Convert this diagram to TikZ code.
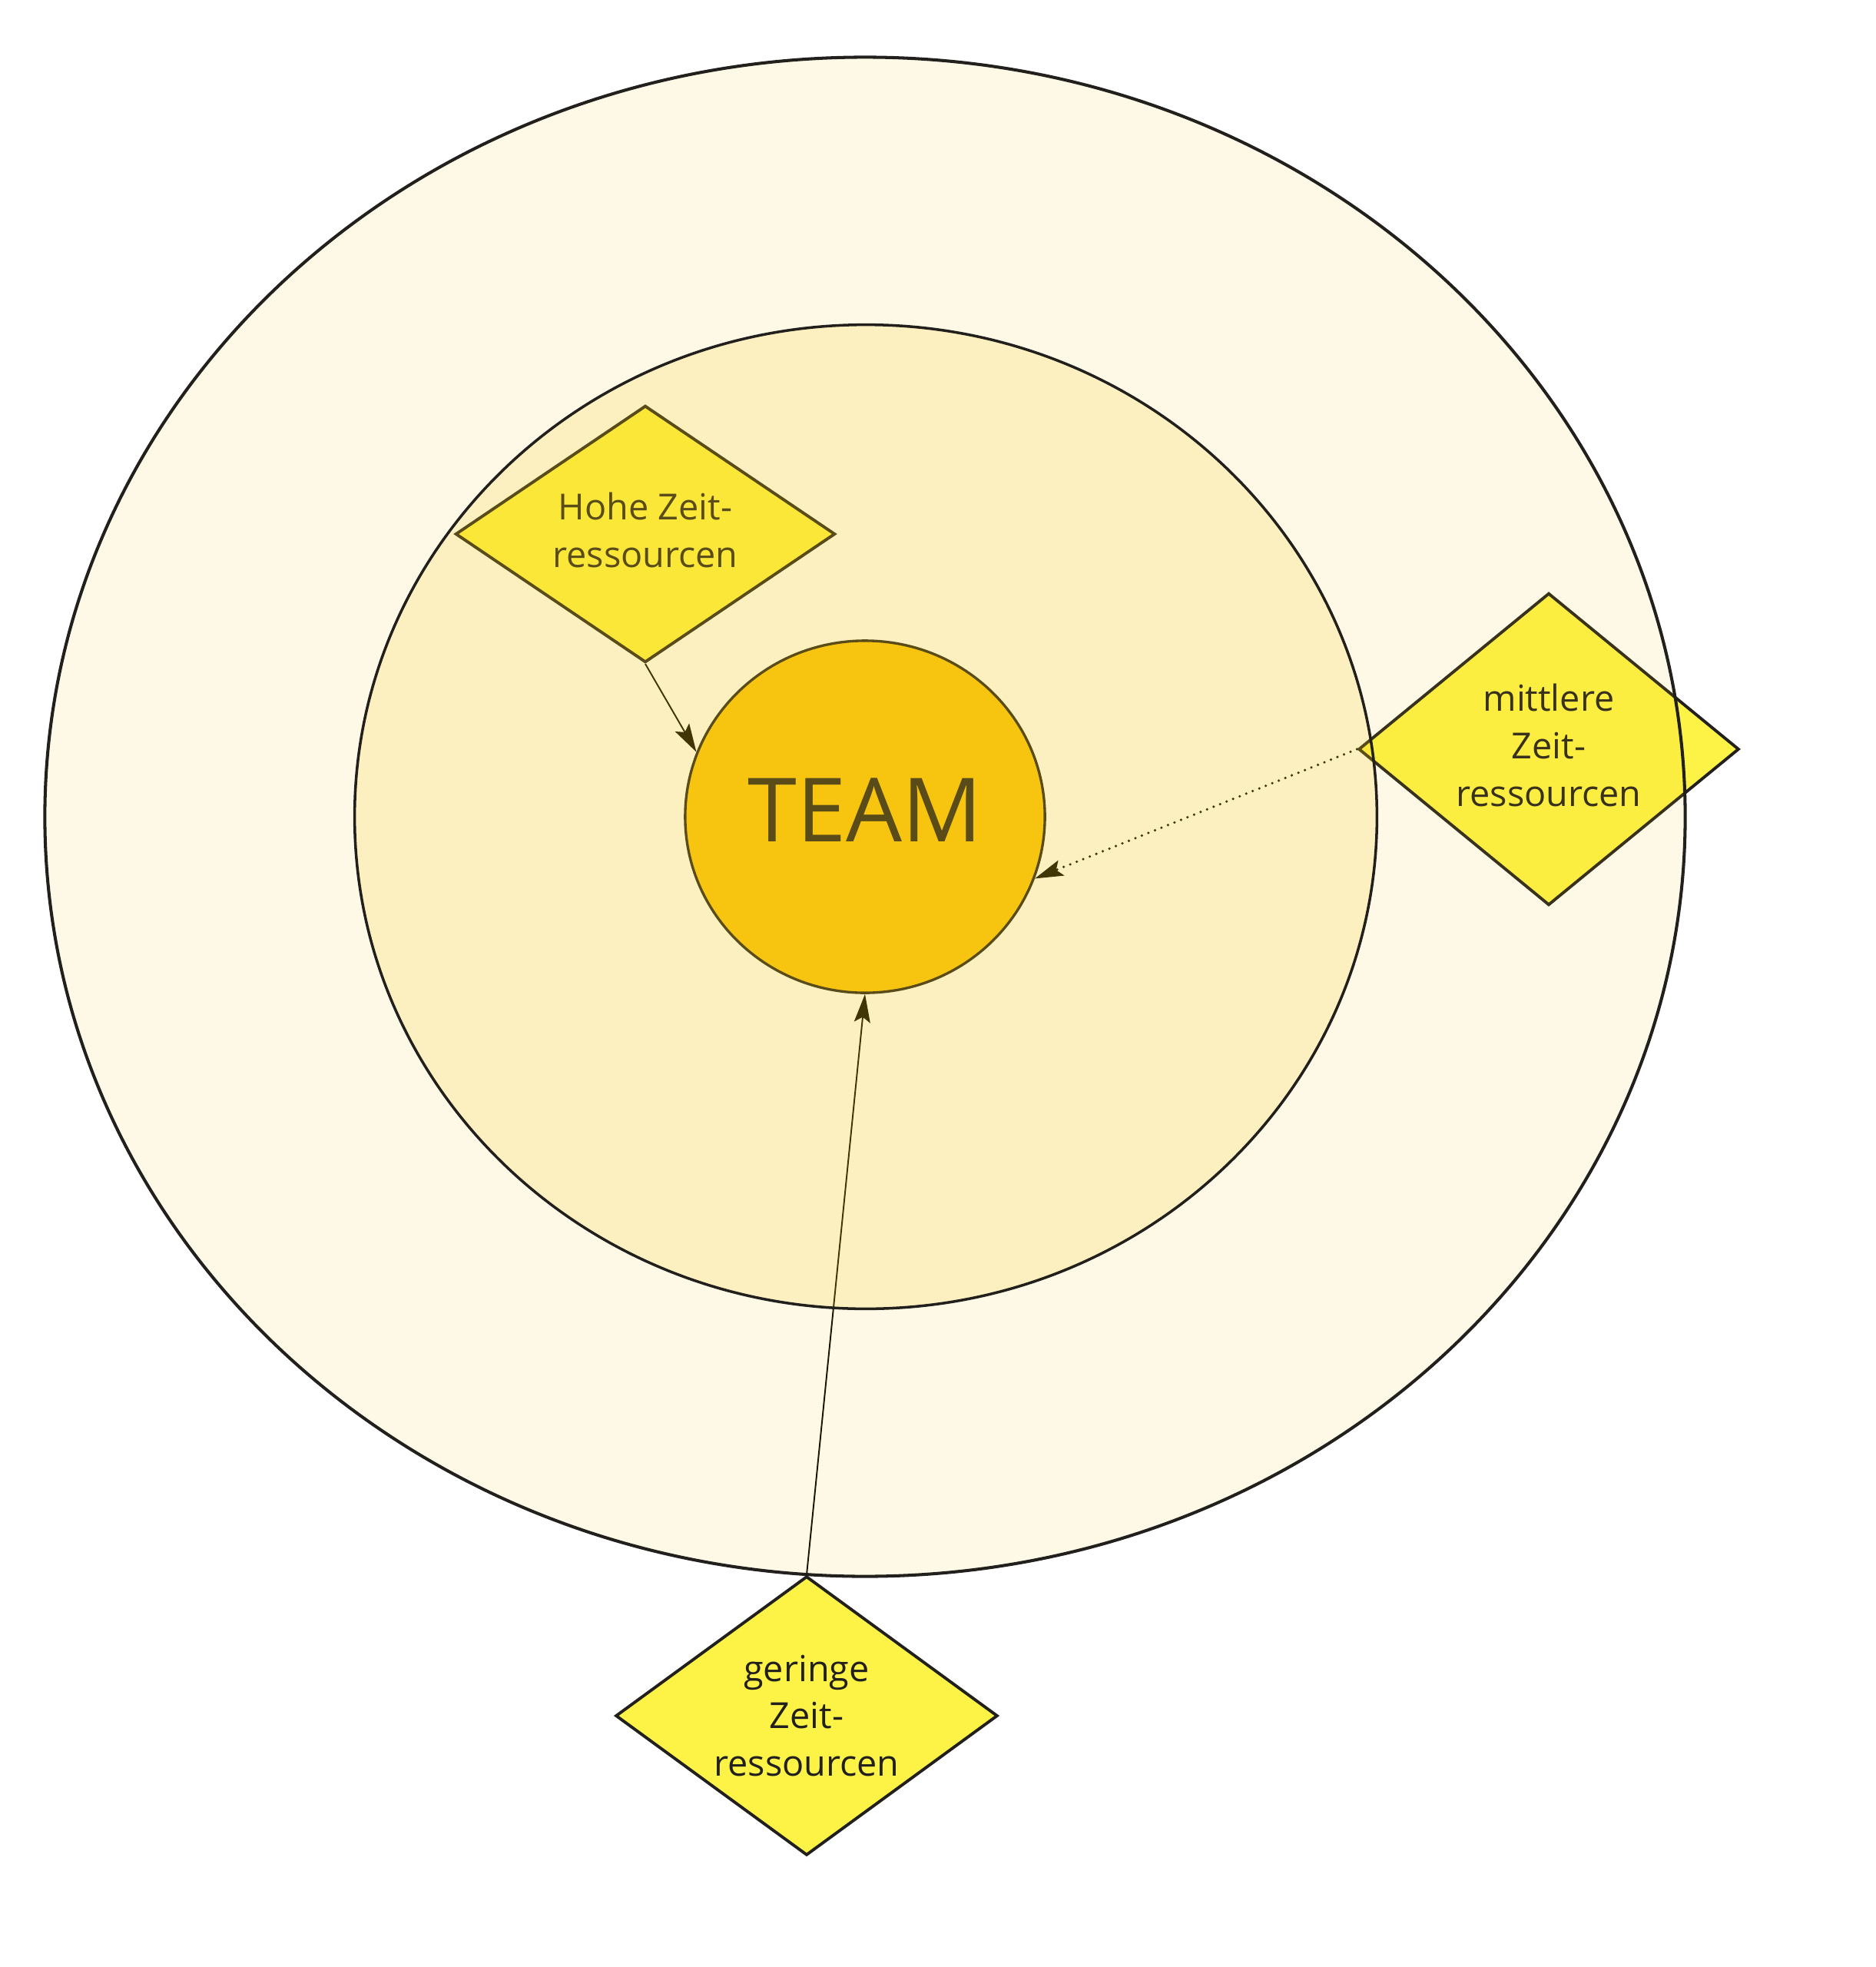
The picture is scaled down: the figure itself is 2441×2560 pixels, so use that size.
\documentclass[tikz,border=0pt]{standalone}
\usepackage{fontspec}
\setmainfont{Open Sans}
\usetikzlibrary{shapes.geometric,arrows.meta}
\definecolor{tint}{RGB}{245,200,20}
\definecolor{ink}{RGB}{34,32,28}
\definecolor{teamfill}{RGB}{249,197,16}
\definecolor{diafill}{RGB}{253,243,71}
\begin{document}
\begin{tikzpicture}[x=0.01cm,y=-0.01cm,
  zone/.style={ellipse, draw=ink, fill=tint, inner sep=0pt},
  dia/.style={diamond, draw=ink, line width=1.1pt, fill=diafill, text=ink, inner sep=0pt, align=center, font=\fontsize{13.3pt}{17.6pt}\selectfont},
  teamnode/.style={ellipse, draw=ink, line width=0.95pt, fill=teamfill, text=ink, inner sep=0pt, minimum width=4.68cm, minimum height=4.58cm, text depth=0.18cm, font=\fontsize{32.8pt}{38pt}\selectfont},
  link/.style={-{Stealth[length=10.5pt,width=6pt,inset=2pt]}, line width=0.55pt, draw=black}]
\useasboundingbox (0,0) rectangle (2441,2560);
\node[teamnode] (team) at (1126,1063) {TEAM};
\node[dia, minimum width=4.94cm, minimum height=3.34cm, aspect=1.48, text depth=0.1cm] (hohe) at (840,695) {Hohe Zeit-\\ressourcen};
\node[dia, minimum width=4.95cm, minimum height=4.06cm, aspect=1.22, text depth=0.1cm] (mitt) at (2016,975) {mittlere\\Zeit-\\ressourcen};
\node[dia, minimum width=4.97cm, minimum height=3.63cm, aspect=1.37] (ger) at (1050,2233) {geringe\\Zeit-\\ressourcen};
\draw[link] (hohe.south) -- (team.159);
\draw[link, line cap=round, dash pattern=on 0pt off 2.6pt, line width=1pt] (mitt.west) -- (team.-20);
\draw[link] (ger.north) -- (team.south);
\node[zone, fill opacity=0.106, line width=1.15pt, minimum width=21.34cm, minimum height=19.76cm] (outer) at (1126,1063) {};
\node[zone, fill opacity=0.18, line width=1pt, minimum width=13.30cm, minimum height=12.80cm] (inner) at (1127,1063) {};
\end{tikzpicture}
\end{document}
